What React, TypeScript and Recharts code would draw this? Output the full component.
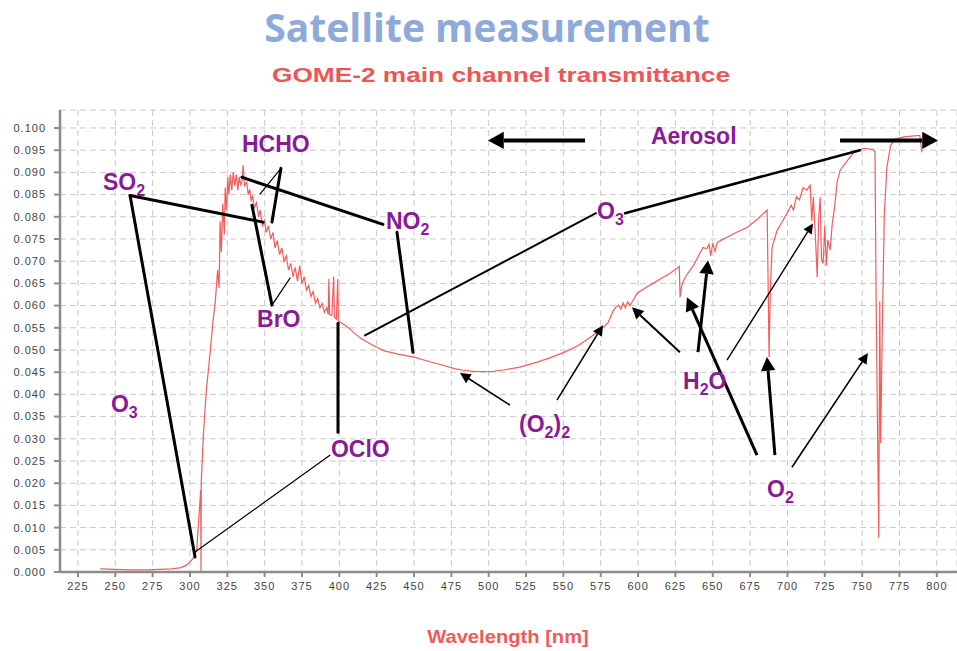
import React from 'react';
import { LineChart, Line, XAxis, YAxis, CartesianGrid, ReferenceLine, ReferenceDot } from 'recharts';

// GOME-2 main channel transmittance
const wavelength = [
  240, 250, 260, 270, 280, 288, 294, 298, 301, 303, 304.5, 305.5, 306.5, 307.2, 307.4, 307.6,
  309, 311, 312.5, 313.5, 314.2, 315.5, 317, 318.5, 319.5, 320.2, 321, 322, 323, 323.6, 324.5,
  325.3, 326, 327, 328, 329, 330, 331, 332, 333, 334, 335, 335.6, 336.5, 338, 339, 340, 341, 342,
  343, 344.5, 346, 347, 348.5, 350, 351, 352.5, 354, 355.5, 357, 358.4, 360, 361.5, 363, 364.5,
  366, 367.5, 369, 370.5, 372, 373.5, 375, 376.5, 378, 379.5, 381, 382.5, 384, 385.5, 387, 388.5,
  390, 391.5, 392.5, 393, 393.5, 395, 396.2, 396.7, 398, 398.9, 399.4, 401, 404, 407, 410, 415,
  420, 425, 430, 440, 450, 460, 470, 477, 482, 490, 500, 510, 520, 530, 540, 550, 560, 570, 576.6,
  580, 583.3, 585, 587, 588.5, 590, 591.5, 593, 594.5, 596.7, 599.4, 605, 610, 616, 621.4, 626.8,
  627.6, 628.1, 629.2, 631.5, 637, 643.5, 646, 647.5, 648.6, 650, 651.5, 653, 656, 659.6, 666, 673,
  680, 686.4, 687.7, 688.5, 689.7, 693.1, 696, 699.8, 702.5, 704, 706, 708, 710.5, 713, 715.2,
  716.3, 717.3, 718.8, 719.9, 721, 721.9, 722.8, 723.9, 725, 726, 727, 728.6, 730, 731.5, 733.3,
  735.3, 740, 744, 750.7, 757.3, 758.6, 759.4, 761.1, 761.8, 762.4, 763.5, 764.8, 766.5, 769, 772,
  778, 786.8, 788.6, 790,
];
const transmittance = [
  0.0007, 0.0006, 0.0005, 0.0005, 0.0006, 0.0007, 0.001, 0.0016, 0.0026, 0.0036, 0.005, 0.01, 0.015, 0.0185, 0.0, 0.0205,
  0.031, 0.041, 0.046, 0.0495, 0.052, 0.0567, 0.061, 0.068, 0.064, 0.079, 0.072, 0.083, 0.076, 0.0866, 0.0815,
  0.089, 0.085, 0.0895, 0.086, 0.09, 0.087, 0.0895, 0.086, 0.089, 0.087, 0.0885, 0.0916, 0.087, 0.0878, 0.085, 0.0862, 0.0835, 0.0848,
  0.082, 0.0832, 0.08, 0.0815, 0.078, 0.0792, 0.0765, 0.078, 0.075, 0.0765, 0.073, 0.0747, 0.0715, 0.073, 0.07, 0.0712,
  0.068, 0.0695, 0.0665, 0.0686, 0.0655, 0.069, 0.065, 0.0665, 0.0635, 0.0645, 0.062, 0.0632, 0.0605, 0.0616, 0.0595, 0.0605,
  0.0585, 0.0595, 0.058, 0.066, 0.058, 0.0578, 0.0665, 0.0575, 0.057, 0.066, 0.0565, 0.0562, 0.0555, 0.0548, 0.0538, 0.0525,
  0.0515, 0.0506, 0.0498, 0.049, 0.0484, 0.0474, 0.0465, 0.0458, 0.0455, 0.0452, 0.0451, 0.0455, 0.0461, 0.047, 0.0481, 0.0494, 0.051, 0.0533, 0.0551,
  0.0562, 0.0588, 0.0596, 0.0601, 0.0592, 0.0606, 0.0595, 0.0609, 0.06, 0.0612, 0.0628, 0.064, 0.065, 0.0662, 0.0673, 0.0686,
  0.0688, 0.0619, 0.0645, 0.0664, 0.069, 0.0731, 0.0728, 0.0738, 0.0712, 0.074, 0.0722, 0.0742, 0.0748, 0.0754, 0.0765, 0.0776,
  0.0795, 0.0815, 0.0484, 0.063, 0.0731, 0.077, 0.0786, 0.0808, 0.0826, 0.0815, 0.0845, 0.0838, 0.0866, 0.086, 0.0871,
  0.079, 0.0845, 0.075, 0.0664, 0.08, 0.0844, 0.0705, 0.0695, 0.078, 0.069, 0.0748, 0.0725, 0.0785, 0.082, 0.088,
  0.0905, 0.0926, 0.0943, 0.0954, 0.0952, 0.0945, 0.06, 0.0077, 0.061, 0.029, 0.055, 0.08, 0.091, 0.096, 0.0975,
  0.098, 0.0983, 0.0983, 0.0945,
];
const xTicks = [225, 250, 275, 300, 325, 350, 375, 400, 425, 450, 475, 500, 525, 550, 575, 600, 625, 650, 675, 700, 725, 750, 775, 800];
const yTicks = [0, 0.005, 0.01, 0.015, 0.02, 0.025, 0.03, 0.035, 0.04, 0.045, 0.05, 0.055, 0.06, 0.065, 0.07, 0.075, 0.08, 0.085, 0.09, 0.095, 0.1];

// annotation labels: text pieces ([text, isSubscript]) and anchor in data units
const labels = [
  { parts: [['HCHO', false]], w: 334.8, t: 0.0945 },
  { parts: [['SO', false], ['2', true]], w: 241.8, t: 0.086 },
  { parts: [['NO', false], ['2', true]], w: 431.2, t: 0.0772 },
  { parts: [['BrO', false]], w: 344.9, t: 0.0551 },
  { parts: [['O', false], ['3', true]], w: 247.1, t: 0.036 },
  { parts: [['OClO', false]], w: 394.4, t: 0.0259 },
  { parts: [['O', false], ['3', true]], w: 572.5, t: 0.0794 },
  { parts: [['Aerosol', false]], w: 608.6, t: 0.0963 },
  { parts: [['(O', false], ['2', true], [')', false], ['2', true]], w: 520.3, t: 0.0315 },
  { parts: [['H', false], ['2', true], ['O', false]], w: 630.1, t: 0.0412 },
  { parts: [['O', false], ['2', true]], w: 686.3, t: 0.0169 },
];

// connector lines in data units: from, to, stroke width, arrowhead at the end
const connectors = [
  { w1: 259.9, t1: 0.0848, w2: 348.9, t2: 0.0788, sw: 3, arrow: false },
  { w1: 259.9, t1: 0.0848, w2: 303.4, t2: 0.0034, sw: 3, arrow: false },
  { w1: 360.9, t1: 0.0909, w2: 354.9, t2: 0.0788, sw: 3, arrow: false },
  { w1: 360.9, t1: 0.0909, w2: 346.9, t2: 0.0851, sw: 1.2, arrow: false },
  { w1: 334.8, t1: 0.0889, w2: 429.2, t2: 0.0783, sw: 3, arrow: false },
  { w1: 438.6, t1: 0.0765, w2: 449.3, t2: 0.0495, sw: 3, arrow: false },
  { w1: 354.9, t1: 0.0601, w2: 341.5, t2: 0.0826, sw: 3, arrow: false },
  { w1: 354.9, t1: 0.0601, w2: 367.0, t2: 0.0662, sw: 1.2, arrow: false },
  { w1: 417.2, t1: 0.0533, w2: 571.8, t2: 0.0808, sw: 2, arrow: false },
  { w1: 591.2, t1: 0.0808, w2: 748.5, t2: 0.095, sw: 2.5, arrow: false },
  { w1: 399.1, t1: 0.056, w2: 399.1, t2: 0.0315, sw: 3, arrow: false },
  { w1: 393.7, t1: 0.0263, w2: 303.4, t2: 0.0045, sw: 1.2, arrow: false },
  { w1: 514.2, t1: 0.0376, w2: 480.8, t2: 0.0448, sw: 1.6, arrow: true },
  { w1: 545.7, t1: 0.0387, w2: 576.5, t2: 0.0556, sw: 1.6, arrow: true },
  { w1: 628.0, t1: 0.0495, w2: 595.9, t2: 0.0596, sw: 2, arrow: true },
  { w1: 640.1, t1: 0.0495, w2: 646.8, t2: 0.0702, sw: 3, arrow: true },
  { w1: 659.5, t1: 0.0477, w2: 717.1, t2: 0.0785, sw: 1.4, arrow: true },
  { w1: 679.6, t1: 0.0263, w2: 632.7, t2: 0.0619, sw: 3, arrow: true },
  { w1: 691.6, t1: 0.0263, w2: 686.3, t2: 0.0484, sw: 3, arrow: true },
  { w1: 703.0, t1: 0.0236, w2: 753.9, t2: 0.0493, sw: 1.6, arrow: true },
  { w1: 564.5, t1: 0.0972, w2: 499.5, t2: 0.0972, sw: 4, arrow: true },
  { w1: 735.2, t1: 0.0972, w2: 800.8, t2: 0.0972, sw: 4, arrow: true },
];

const chartData = wavelength.map((w, i) => ({ w, t: transmittance[i] }));

const PURPLE = '#8a1a98';
const AXIS = '#8c8c8c';

const connectorShape = (sw: number, arrow: boolean) => (p: any) => {
  const { x1, y1, x2, y2 } = p;
  if (!arrow) {
    return <line x1={x1} y1={y1} x2={x2} y2={y2} stroke="#000" strokeWidth={sw} strokeLinecap="round" />;
  }
  const a = Math.atan2(y2 - y1, x2 - x1);
  const len = 7 + sw * 2.2;
  const half = 3 + sw * 1.4;
  const bx = x2 - len * Math.cos(a);
  const by = y2 - len * Math.sin(a);
  const px = -Math.sin(a) * half;
  const py = Math.cos(a) * half;
  return (
    <g>
      <line x1={x1} y1={y1} x2={bx} y2={by} stroke="#000" strokeWidth={sw} />
      <polygon points={`${x2},${y2} ${bx + px},${by + py} ${bx - px},${by - py}`} fill="#000" />
    </g>
  );
};

const labelShape = (parts: any[]) => (p: any) => {
  let prevSub = false;
  return (
    <text x={p.cx} y={p.cy} fill={PURPLE} fontFamily="Arial, 'Liberation Sans', sans-serif" fontWeight="bold" fontSize={23}>
      {parts.map(([s, sub]: [string, boolean], i: number) => {
        const dy = sub && !prevSub ? 6 : !sub && prevSub ? -6 : 0;
        prevSub = sub;
        return (
          <tspan key={i} dy={dy} fontSize={sub ? 16 : 23}>
            {s}
          </tspan>
        );
      })}
    </text>
  );
};

const centered = (cx: number, top: number): React.CSSProperties => ({
  position: 'absolute',
  left: cx,
  top,
  whiteSpace: 'nowrap',
  lineHeight: 'normal',
});

export default function App() {
  return (
    <div style={{ position: 'absolute', left: 0, top: 0, width: 957, height: 651, background: '#fff', fontFamily: 'Arial, sans-serif' }}>
      <div style={{ ...centered(487, 0), transform: 'translateX(-50%)', fontFamily: "'Open Sans', sans-serif", fontWeight: 700, fontSize: 39, color: '#8eaadb' }}>
        Satellite measurement
      </div>
      <div style={{ ...centered(501, 63), transform: 'translateX(-50%) scaleX(1.25)', fontFamily: "Arial, 'Liberation Sans', sans-serif", fontWeight: 700, fontSize: 21, color: '#ef5555' }}>
        GOME-2 main channel transmittance
      </div>
      <div style={{ ...centered(508, 627), transform: 'translateX(-50%) scaleX(1.12)', fontFamily: "Arial, 'Liberation Sans', sans-serif", fontWeight: 700, fontSize: 18, color: '#ef5a5a' }}>
        Wavelength [nm]
      </div>
      <div style={{ position: 'absolute', left: 0, top: 0 }}>
        <LineChart width={957} height={651} data={chartData} margin={{ top: 110, right: 0, bottom: 49, left: 0 }}>
          <CartesianGrid stroke="#c9c9c9" strokeDasharray="6 4" />
          <XAxis
            dataKey="w"
            type="number"
            domain={[213, 813.5]}
            ticks={xTicks}
            interval={0}
            allowDataOverflow
            height={30}
            tickSize={5}
            tickMargin={5}
            axisLine={{ stroke: AXIS, strokeWidth: 2.5 }}
            tickLine={{ stroke: AXIS, strokeWidth: 2 }}
            tick={{ fill: '#444', fontSize: 11, letterSpacing: 1 }}
          />
          <YAxis
            type="number"
            domain={[0, 0.10405]}
            ticks={yTicks}
            interval={0}
            allowDataOverflow
            width={60}
            tickSize={6}
            tickMargin={8}
            tickFormatter={(v: number) => v.toFixed(3)}
            axisLine={{ stroke: AXIS, strokeWidth: 2.5 }}
            tickLine={{ stroke: AXIS, strokeWidth: 2 }}
            tick={{ fill: '#444', fontSize: 11, letterSpacing: 1 }}
          />
          <Line type="linear" dataKey="t" stroke="#f25c5c" strokeWidth={1.2} dot={false} isAnimationActive={false} />
          {connectors.map((c, i) => (
            <ReferenceLine
              key={`c${i}`}
              segment={[{ x: c.w1, y: c.t1 }, { x: c.w2, y: c.t2 }]}
              ifOverflow="visible"
              shape={connectorShape(c.sw, c.arrow)}
            />
          ))}
          {labels.map((l, i) => (
            <ReferenceDot key={`l${i}`} x={l.w} y={l.t} r={0} ifOverflow="visible" shape={labelShape(l.parts)} />
          ))}
        </LineChart>
      </div>
    </div>
  );
}
